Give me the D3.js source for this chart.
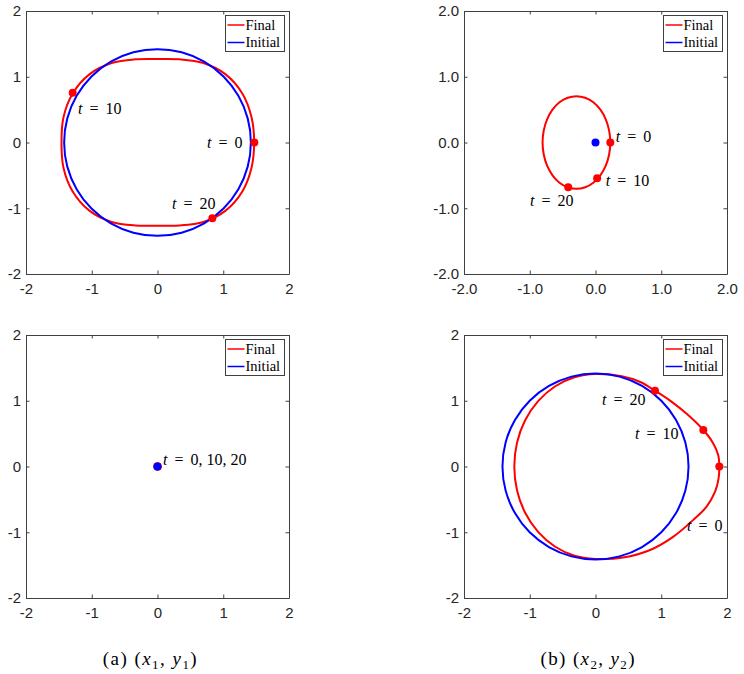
<!DOCTYPE html>
<html><head><meta charset="utf-8">
<script src="https://cdn.jsdelivr.net/npm/d3@7"></script>
<style>
body{margin:0;background:#fff}svg{display:block}
.serif{font-family:"Liberation Serif","Times New Roman",Tinos,"DejaVu Serif",serif}
.sans{font-family:"Liberation Sans",Arial,Arimo,Helvetica,sans-serif}
</style>
</head><body>
<svg id="c" width="744" height="674"></svg>
<script>
// ---------- data ----------
const ticks = [-2, -1, 0, 1, 2];
const tickLabelsInt = ["-2", "-1", "0", "1", "2"];
const tickLabelsDec = ["-2.0", "-1.0", "0.0", "1.0", "2.0"];
const legendLabels = ["Final", "Initial"];
const captionA = ["(a) (", "x", "1", ", ", "y", "1", ")"];
const captionB = ["(b) (", "x", "2", ", ", "y", "2", ")"];

// panel (x1,y1), top
const finalA1 = [[1.47,0],[1.430,0.383],[1.290,0.745],[1.036,1.036],[0.698,1.208],[0.339,1.265],[0,1.27],
  [-0.339,1.265],[-0.698,1.208],[-1.036,1.036],[-1.290,0.745],[-1.430,0.383],[-1.46,0],
  [-1.430,-0.383],[-1.290,-0.745],[-1.036,-1.036],[-0.698,-1.208],[-0.339,-1.262],[0,-1.265],
  [0.339,-1.262],[0.698,-1.208],[1.036,-1.036],[1.290,-0.745],[1.430,-0.383]];
const initialA1 = [[1.42,0],[1.372,0.367],[1.230,0.710],[1.004,1.004],[0.710,1.230],[0.367,1.372],[0,1.42],
  [-0.367,1.372],[-0.710,1.230],[-1.004,1.004],[-1.230,0.710],[-1.372,0.367],[-1.42,0],
  [-1.372,-0.367],[-1.230,-0.710],[-1.004,-1.004],[-0.710,-1.230],[-0.367,-1.372],[0,-1.42],
  [0.367,-1.372],[0.710,-1.230],[1.004,-1.004],[1.230,-0.710],[1.372,-0.367]];
const markFinalA1 = [[1.473,0],[-1.29,0.757],[0.834,-1.153]];
const markInitialA1 = [];
const notesA1 = [{x:-1.209,y:0.441,v:"10"},{x:0.753,y:-0.084,v:"0"},{x:0.22,y:-1.019,v:"20"}];

// panel (x2,y2), top
const finalB1 = [[0.225,0],[0.207,0.183],[0.156,0.353],[0.074,0.499],[-0.033,0.611],[-0.157,0.681],[-0.29,0.705],
  [-0.423,0.681],[-0.548,0.611],[-0.654,0.499],[-0.736,0.353],[-0.787,0.183],[-0.805,0],
  [-0.787,-0.183],[-0.736,-0.353],[-0.654,-0.499],[-0.548,-0.611],[-0.423,-0.681],[-0.29,-0.705],
  [-0.157,-0.681],[-0.033,-0.611],[0.074,-0.499],[0.156,-0.353],[0.207,-0.183]];
const initialB1 = [];
const markFinalB1 = [[0.225,0],[0.025,-0.545],[-0.415,-0.68]];
const markInitialB1 = [[0,0]];
const notesB1 = [{x:0.307,y:0.015,v:"0"},{x:0.155,y:-0.662,v:"10"},{x:-0.996,y:-0.966,v:"20"}];

// panel (x1,y1), bottom
const finalA2 = [];
const initialA2 = [];
const markFinalA2 = [[0,0],[0,0],[0,0]];
const markInitialA2 = [[0,0]];
const notesA2 = [{x:0.084,y:0.03,v:"0, 10, 20"}];

// panel (x2,y2), bottom
const finalB2 = [[1.883,0],[1.865,0.18],[1.78,0.37],[1.64,0.555],[1.40,0.79],[1.15,0.99],[0.905,1.153],[0.68,1.285],[0.40,1.372],[0,1.405],
  [-0.32,1.357],[-0.618,1.217],[-0.873,0.994],[-1.07,0.703],[-1.193,0.364],[-1.235,0],
  [-1.193,-0.364],[-1.07,-0.703],[-0.873,-0.994],[-0.618,-1.217],[-0.32,-1.357],[0,-1.405],
  [0.42,-1.385],[0.83,-1.27],[1.18,-1.07],[1.49,-0.81],[1.69,-0.61],[1.82,-0.38],[1.872,-0.18]];
const initialB2 = [[1.415,0],[1.367,0.366],[1.225,0.708],[1.001,1.001],[0.708,1.225],[0.366,1.367],[0,1.415],
  [-0.366,1.367],[-0.708,1.225],[-1.001,1.001],[-1.225,0.708],[-1.367,0.366],[-1.415,0],
  [-1.367,-0.366],[-1.225,-0.708],[-1.001,-1.001],[-0.708,-1.225],[-0.366,-1.367],[0,-1.415],
  [0.366,-1.367],[0.708,-1.225],[1.001,-1.001],[1.225,-0.708],[1.367,-0.366]];
const markFinalB2 = [[1.883,0],[1.64,0.555],[0.905,1.153]];
const markInitialB2 = [];
const notesB2 = [{x:0.099,y:0.928,v:"20"},{x:0.601,y:0.418,v:"10"},{x:1.392,y:-0.981,v:"0"}];

// ---------- layout ----------
const RED = "#ff0000", BLUE = "#0000ff", AX = "#404040", TXT = "#262626";
const SIZE = 263;
const panels = [
  {left:26,  top:11,  fin:finalA1, ini:initialA1, mf:markFinalA1, mi:markInitialA1, notes:notesA1, labels:tickLabelsInt},
  {left:464, top:11,  fin:finalB1, ini:initialB1, mf:markFinalB1, mi:markInitialB1, notes:notesB1, labels:tickLabelsDec},
  {left:26,  top:335, fin:finalA2, ini:initialA2, mf:markFinalA2, mi:markInitialA2, notes:notesA2, labels:tickLabelsInt},
  {left:464, top:335, fin:finalB2, ini:initialB2, mf:markFinalB2, mi:markInitialB2, notes:notesB2, labels:tickLabelsInt}
];

const svg = d3.select("#c");

panels.forEach(p => {
  const x = d3.scaleLinear().domain([-2, 2]).range([0, SIZE]);
  const y = d3.scaleLinear().domain([-2, 2]).range([SIZE, 0]);
  const g = svg.append("g").attr("transform", `translate(${p.left},${p.top})`);
  const fmt = (d, i) => p.labels[i];

  const styleAxis = sel => {
    sel.attr("font-family", null).attr("font-size", null).attr("class", "sans");
    sel.selectAll("path.domain").attr("stroke", AX).attr("stroke-width", 1);
    sel.selectAll(".tick line").attr("stroke", AX).attr("stroke-width", 1);
    sel.selectAll(".tick text").attr("fill", TXT).style("font-size", "15px");
  };
  g.append("g").attr("transform", `translate(0,${SIZE})`)
    .call(d3.axisBottom(x).tickValues(ticks).tickFormat(fmt).tickSizeInner(-3.5).tickSizeOuter(0).tickPadding(9))
    .call(styleAxis);
  g.append("g")
    .call(d3.axisLeft(y).tickValues(ticks).tickFormat(fmt).tickSizeInner(-3.5).tickSizeOuter(0).tickPadding(5))
    .call(styleAxis);
  g.append("g")
    .call(d3.axisTop(x).tickValues(ticks).tickFormat("").tickSizeInner(-3.5).tickSizeOuter(0))
    .call(styleAxis);
  g.append("g").attr("transform", `translate(${SIZE},0)`)
    .call(d3.axisRight(y).tickValues(ticks).tickFormat("").tickSizeInner(-3.5).tickSizeOuter(0))
    .call(styleAxis);

  const line = d3.line().x(d => x(d[0])).y(d => y(d[1])).curve(d3.curveCatmullRomClosed.alpha(0.5));
  if (p.fin.length) g.append("path").attr("d", line(p.fin)).attr("fill", "none")
    .attr("stroke", RED).attr("stroke-width", 2);
  if (p.ini.length) g.append("path").attr("d", line(p.ini)).attr("fill", "none")
    .attr("stroke", BLUE).attr("stroke-width", 2);

  g.selectAll("circle.mf").data(p.mf).join("circle").attr("class", "mf")
    .attr("cx", d => x(d[0])).attr("cy", d => y(d[1])).attr("r", 4).attr("fill", RED);
  g.selectAll("circle.mi").data(p.mi).join("circle").attr("class", "mi")
    .attr("cx", d => x(d[0])).attr("cy", d => y(d[1])).attr("r", 4).attr("fill", BLUE);

  // annotations  t = ...
  p.notes.forEach(n => {
    const t = g.append("text").attr("class", "serif").attr("x", x(n.x)).attr("y", y(n.y))
      .style("font-size", "16px").attr("fill", "#000");
    t.append("tspan").style("font-style", "italic").text("t");
    t.append("tspan").attr("dx", 3).text(" =");
    t.append("tspan").attr("dx", 3).text(" " + n.v);
  });

  // legend
  const lg = g.append("g").attr("transform", `translate(${SIZE - 63.5},4.5)`);
  lg.append("rect").attr("width", 59).attr("height", 36).attr("fill", "#fff")
    .attr("stroke", AX).attr("stroke-width", 1);
  legendLabels.forEach((lab, i) => {
    const cy = 9.5 + i * 17.5;
    lg.append("line").attr("x1", 2).attr("x2", 19).attr("y1", cy).attr("y2", cy)
      .attr("stroke", i === 0 ? RED : BLUE).attr("stroke-width", 1.5);
    lg.append("text").attr("class", "serif").attr("x", 20).attr("y", cy + 4.8).text(lab)
      .style("font-size", "14.5px").attr("fill", "#000");
  });
});

// captions
function caption(parts, x0, yb) {
  const t = svg.append("text").attr("class", "serif").attr("x", x0).attr("y", yb)
    .attr("textLength", 94).attr("lengthAdjust", "spacing")
    .style("font-size", "19px").attr("fill", "#000");
  t.append("tspan").text(parts[0]);
  t.append("tspan").style("font-style", "italic").text(parts[1]);
  t.append("tspan").attr("dy", 4).style("font-size", "13px").text(parts[2]);
  t.append("tspan").attr("dy", -4).text(parts[3]);
  t.append("tspan").style("font-style", "italic").text(parts[4]);
  t.append("tspan").attr("dy", 4).style("font-size", "13px").text(parts[5]);
  t.append("tspan").attr("dy", -4).text(parts[6]);
}
caption(captionA, 102.7, 665);
caption(captionB, 540.5, 665);
</script>
</body></html>
